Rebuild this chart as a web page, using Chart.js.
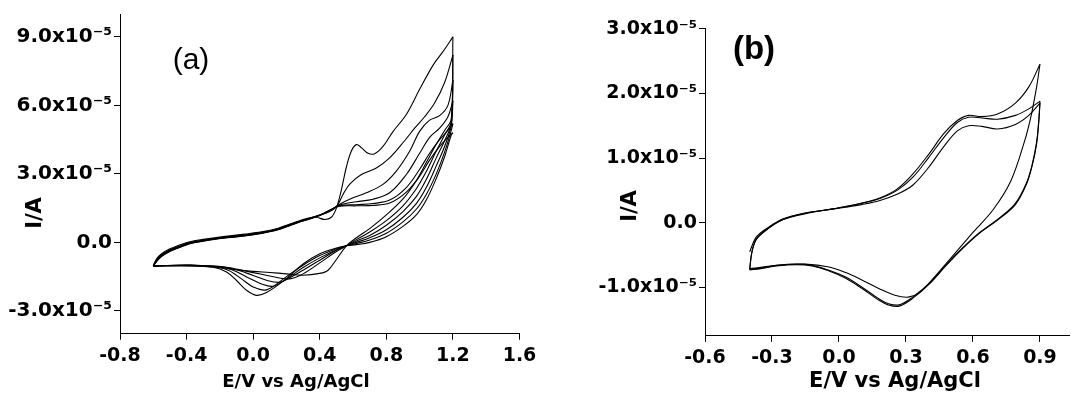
<!DOCTYPE html>
<html><head><meta charset="utf-8">
<script src="https://cdn.jsdelivr.net/npm/chart.js@4/dist/chart.umd.min.js"></script>
<style>
html,body{margin:0;padding:0;background:#fff;width:1072px;height:399px;overflow:hidden;position:relative}
.p{position:absolute;top:0;height:399px}
#wa{left:0;width:560px}
#wb{left:536px;width:536px}
</style></head><body>
<div class="p" id="wa"><canvas id="ca" width="560" height="399"></canvas></div>
<div class="p" id="wb"><canvas id="cb" width="536" height="399"></canvas></div>
<script>
// ---------- Panel (a): E (V) and I (x10^-5 A), six cycles ----------
const aXTicks = [-0.8, -0.4, 0.0, 0.4, 0.8, 1.2, 1.6];
const aYTicks = [-3, 0, 3, 6, 9];
const aLeftE = [-0.6,-0.58,-0.55,-0.5,-0.45,-0.38,-0.3,-0.18,-0.05,0.05,0.15,0.22,0.28,0.34,0.4];

const a1FwdE = [-0.6,-0.58,-0.55,-0.5,-0.45,-0.38,-0.3,-0.18,-0.05,0.05,0.15,0.22,0.28,0.34,0.38,0.43,0.47,0.5,0.53,0.56,0.59,0.62,0.65,0.69,0.73,0.78,0.84,0.92,1.0,1.08,1.14,1.2];
const a1FwdI = [-1.02,-0.72,-0.5,-0.28,-0.14,0.03,0.13,0.25,0.36,0.46,0.62,0.8,0.95,1.08,1.1,1.0,1.1,1.5,2.3,3.3,4.0,4.28,4.15,3.9,3.88,4.2,4.85,5.6,6.7,7.75,8.35,9.0];
const a2FwdE = aLeftE.concat([0.45,0.5,0.54,0.58,0.65,0.74,0.82,0.91,0.97,1.03,1.09,1.15,1.2]);
const a2FwdI = [-1.02,-0.76,-0.54,-0.32,-0.18,0.0,0.1,0.22,0.33,0.43,0.6,0.78,0.93,1.06,1.2,1.32,1.55,2.1,2.55,2.97,3.26,3.7,4.45,5.0,5.5,6.1,7.0,8.2];
const a3FwdE = aLeftE.concat([0.45,0.52,0.6,0.68,0.78,0.86,0.94,1.0,1.06,1.12,1.17,1.2]);
const a3FwdI = [-1.03,-0.78,-0.56,-0.34,-0.2,-0.02,0.09,0.21,0.31,0.42,0.58,0.76,0.92,1.05,1.2,1.34,1.67,1.95,2.17,2.54,3.12,3.99,4.86,5.35,5.55,6.0,7.1];
const a4FwdE = aLeftE.concat([0.45,0.52,0.62,0.72,0.82,0.92,1.0,1.06,1.12,1.17,1.2]);
const a4FwdI = [-1.03,-0.8,-0.58,-0.36,-0.22,-0.04,0.07,0.2,0.3,0.41,0.57,0.75,0.91,1.04,1.19,1.36,1.64,1.78,1.89,2.17,2.97,3.9,4.6,5.0,5.5,6.2];
const a5FwdE = aLeftE.concat([0.45,0.52,0.62,0.72,0.82,0.92,1.0,1.06,1.12,1.17,1.2]);
const a5FwdI = [-1.04,-0.82,-0.6,-0.38,-0.24,-0.05,0.06,0.19,0.29,0.4,0.56,0.74,0.9,1.03,1.18,1.36,1.6,1.65,1.7,1.85,2.4,3.2,3.9,4.5,4.9,5.2];
const a6FwdE = aLeftE.concat([0.45,0.52,0.62,0.72,0.82,0.92,1.0,1.06,1.12,1.17,1.2]);
const a6FwdI = [-1.04,-0.84,-0.62,-0.4,-0.25,-0.06,0.05,0.18,0.28,0.39,0.55,0.73,0.89,1.02,1.18,1.37,1.58,1.6,1.62,1.72,2.2,2.9,3.6,4.2,4.6,4.8];

const aRevTopE = [1.2,1.19,1.15,1.1,1.04,0.98,0.9,0.8,0.7,0.62,0.56];
const a1RevE = aRevTopE.concat([0.5,0.45,0.4,0.3,0.2,0.1,0.0,-0.1,-0.2,-0.3,-0.45,-0.6]);
const a1RevI = [9.0,5.4,4.9,4.3,3.5,2.7,1.9,1.2,0.6,0.2,-0.15,-0.75,-1.22,-1.36,-1.44,-1.38,-1.32,-1.27,-1.2,-1.1,-1.05,-1.03,-1.03];
const a2RevE = aRevTopE.concat([0.5,0.4,0.3,0.22,0.15,0.05,-0.05,-0.15,-0.3,-0.45,-0.6]);
const a2RevI = [8.2,5.3,4.7,4.0,3.1,2.35,1.6,0.95,0.45,0.12,-0.15,-0.4,-0.9,-1.38,-1.6,-1.55,-1.4,-1.25,-1.1,-1.02,-1.0,-1.02];
const a3RevE = aRevTopE.concat([0.5,0.4,0.3,0.22,0.16,0.08,0.0,-0.1,-0.2,-0.35,-0.6]);
const a3RevI = [7.1,5.2,4.45,3.7,2.75,2.0,1.35,0.75,0.3,0.06,-0.15,-0.35,-0.78,-1.22,-1.55,-1.75,-1.66,-1.45,-1.2,-1.06,-1.0,-1.03];
const a4RevE = aRevTopE.concat([0.5,0.4,0.3,0.2,0.12,0.05,-0.03,-0.12,-0.22,-0.35,-0.6]);
const a4RevI = [6.2,5.1,4.2,3.35,2.4,1.7,1.1,0.55,0.2,0.0,-0.15,-0.32,-0.68,-1.1,-1.6,-1.92,-1.82,-1.55,-1.22,-1.06,-1.0,-1.03];
const a5RevE = aRevTopE.concat([0.5,0.4,0.3,0.2,0.08,0.0,-0.07,-0.15,-0.25,-0.4,-0.6]);
const a5RevI = [5.2,4.9,3.95,3.0,2.1,1.45,0.9,0.4,0.1,-0.05,-0.15,-0.28,-0.58,-1.0,-1.5,-2.08,-1.95,-1.6,-1.22,-1.06,-1.0,-1.04];
const a6RevE = aRevTopE.concat([0.5,0.4,0.3,0.18,0.08,0.02,-0.04,-0.1,-0.16,-0.24,-0.38,-0.6]);
const a6RevI = [4.8,4.7,3.75,2.8,1.85,1.2,0.7,0.25,0.0,-0.1,-0.15,-0.25,-0.5,-0.95,-1.7,-2.2,-2.32,-2.1,-1.67,-1.3,-1.09,-1.01,-1.04];

// ---------- Panel (b): three cycles ----------
const bXTicks = [-0.6, -0.3, 0.0, 0.3, 0.6, 0.9];
const bYTicks = [-1, 0, 1, 2, 3];
const b1FwdE = [-0.4,-0.37,-0.32,-0.25,-0.15,-0.05,0.03,0.1,0.18,0.26,0.33,0.4,0.47,0.53,0.58,0.64,0.71,0.79,0.85,0.9];
const b1FwdI = [-0.45,-0.22,-0.08,0.06,0.15,0.2,0.25,0.3,0.38,0.52,0.75,1.05,1.38,1.58,1.66,1.64,1.68,1.85,2.1,2.45];
const bFwdE = [-0.4,-0.39,-0.37,-0.32,-0.25,-0.15,-0.05,0.03,0.1,0.18,0.26,0.33,0.4,0.47,0.53,0.58,0.64,0.71,0.79,0.85,0.9];
const b2FwdI = [-0.72,-0.45,-0.25,-0.09,0.05,0.15,0.2,0.25,0.3,0.37,0.5,0.7,1.0,1.32,1.55,1.63,1.62,1.6,1.66,1.76,1.88];
const b3FwdI = [-0.73,-0.46,-0.26,-0.1,0.05,0.14,0.2,0.24,0.28,0.34,0.44,0.58,0.85,1.18,1.42,1.5,1.49,1.45,1.52,1.66,1.85];
const b1RevE = [0.9,0.885,0.86,0.83,0.77,0.69,0.6,0.5,0.42,0.36,0.31,0.25,0.18,0.1,0.03,-0.05,-0.15,-0.25,-0.35,-0.4];
const b1RevI = [2.45,2.1,1.65,1.25,0.65,0.2,-0.15,-0.55,-0.87,-1.08,-1.15,-1.12,-1.02,-0.88,-0.77,-0.68,-0.64,-0.65,-0.69,-0.71];
const bRevE = [0.9,0.895,0.885,0.865,0.84,0.79,0.71,0.63,0.55,0.48,0.41,0.33,0.27,0.22,0.18,0.1,0.03,-0.05,-0.12,-0.19,-0.28,-0.35,-0.4];
const b2RevI = [1.88,1.6,1.25,0.9,0.62,0.3,0.05,-0.15,-0.4,-0.65,-0.92,-1.15,-1.27,-1.25,-1.18,-0.99,-0.84,-0.73,-0.66,-0.64,-0.66,-0.7,-0.72];
const b3RevI = [1.85,1.57,1.22,0.88,0.6,0.28,0.04,-0.16,-0.41,-0.66,-0.93,-1.17,-1.29,-1.27,-1.2,-1.01,-0.86,-0.74,-0.67,-0.65,-0.67,-0.71,-0.73];

const SUP = 'x10\u207B\u2075';
const TICK_FONT = 'DejaVu Sans';

function pts(E, I){ return E.map((e,i)=>({x:e, y:I[i]})); }
function ds(E, I){ return {data:pts(E,I), showLine:true, borderColor:'#000', borderWidth:1.1, pointRadius:0, tension:0.35, fill:false}; }

const textPlugin = {
  id:'panelText',
  afterDraw(chart, args, opts){
    const ctx = chart.ctx;
    ctx.save();
    ctx.fillStyle = '#000';
    ctx.textAlign = 'center';
    ctx.textBaseline = 'middle';
    for (const t of opts.items){
      ctx.save();
      ctx.font = t.font;
      ctx.translate(t.x, t.y);
      if (t.rot) ctx.rotate(t.rot);
      ctx.fillText(t.text, 0, 0);
      ctx.restore();
    }
    ctx.restore();
  }
};

function makeChart(id, datasets, c){
  return new Chart(document.getElementById(id), {
    type:'scatter',
    data:{datasets},
    plugins:[textPlugin],
    options:{
      responsive:false, animation:false, devicePixelRatio:1,
      layout:{padding:{top:c.padTop, right:c.padRight, left:0, bottom:0}},
      plugins:{legend:{display:false}, tooltip:{enabled:false}, panelText:{items:c.texts}},
      scales:{
        x:{type:'linear', min:c.xMin, max:c.xMax,
          afterBuildTicks:s=>{ s.ticks = c.xTicks.map(v=>({value:v})); },
          afterFit:s=>{ s.height = c.xH; },
          grid:{display:true, drawOnChartArea:false, drawTicks:true, tickLength:6, color:'#000', lineWidth:1},
          border:{display:true, color:'#000', width:1},
          ticks:{color:'#000', padding:5, maxRotation:0, autoSkip:false,
            font:{family:TICK_FONT, size:c.xFont, weight:'bold'},
            callback:v=>v.toFixed(1)}
        },
        y:{type:'linear', min:c.yMin, max:c.yMax,
          afterBuildTicks:s=>{ s.ticks = c.yTicks.map(v=>({value:v})); },
          afterFit:s=>{ s.width = c.yW; },
          grid:{display:true, drawOnChartArea:false, drawTicks:true, tickLength:6, color:'#000', lineWidth:1},
          border:{display:true, color:'#000', width:1},
          ticks:{color:'#000', padding:2, autoSkip:false,
            font:{family:TICK_FONT, size:c.yFont, weight:'bold'},
            callback:v=> (Math.abs(v)<1e-9 ? '0.0' : v.toFixed(1)+SUP)}
        }
      }
    }
  });
}

makeChart('ca', [
  ds(a1FwdE,a1FwdI), ds(a1RevE,a1RevI),
  ds(a2FwdE,a2FwdI), ds(a2RevE,a2RevI),
  ds(a3FwdE,a3FwdI), ds(a3RevE,a3RevI),
  ds(a4FwdE,a4FwdI), ds(a4RevE,a4RevI),
  ds(a5FwdE,a5FwdI), ds(a5RevE,a5RevI),
  ds(a6FwdE,a6FwdI), ds(a6RevE,a6RevI)
], {
  padTop:12, padRight:40.5, xH:65.3, yW:120,
  xMin:-0.8, xMax:1.6, yMin:-4, yMax:10,
  xTicks:aXTicks, yTicks:aYTicks, xFont:19, yFont:20,
  texts:[
    {text:'I/A', x:36, y:213, rot:-Math.PI/2, font:'bold 21px "DejaVu Sans"'},
    {text:'E/V vs Ag/AgCl', x:296, y:382, font:'bold 18px "DejaVu Sans"'},
    {text:'(a)', x:191, y:61, font:'30px "Liberation Sans"'}
  ]
});

makeChart('cb', [
  ds(b1FwdE,b1FwdI), ds(b1RevE,b1RevI),
  ds(bFwdE,b2FwdI), ds(bRevE,b2RevI),
  ds(bFwdE,b3FwdI), ds(bRevE,b3RevI)
], {
  padTop:28.7, padRight:3, xH:63.1, yW:169,
  xMin:-0.6, xMax:1.03, yMin:-1.75, yMax:3,
  xTicks:bXTicks, yTicks:bYTicks, xFont:19, yFont:19,
  texts:[
    {text:'I/A', x:95, y:206, rot:-Math.PI/2, font:'bold 21px "DejaVu Sans"'},
    {text:'E/V vs Ag/AgCl', x:359, y:382, font:'bold 21px "DejaVu Sans"'},
    {text:'(b)', x:218, y:50, font:'bold 33px "Liberation Sans"'}
  ]
});
</script>
</body></html>
